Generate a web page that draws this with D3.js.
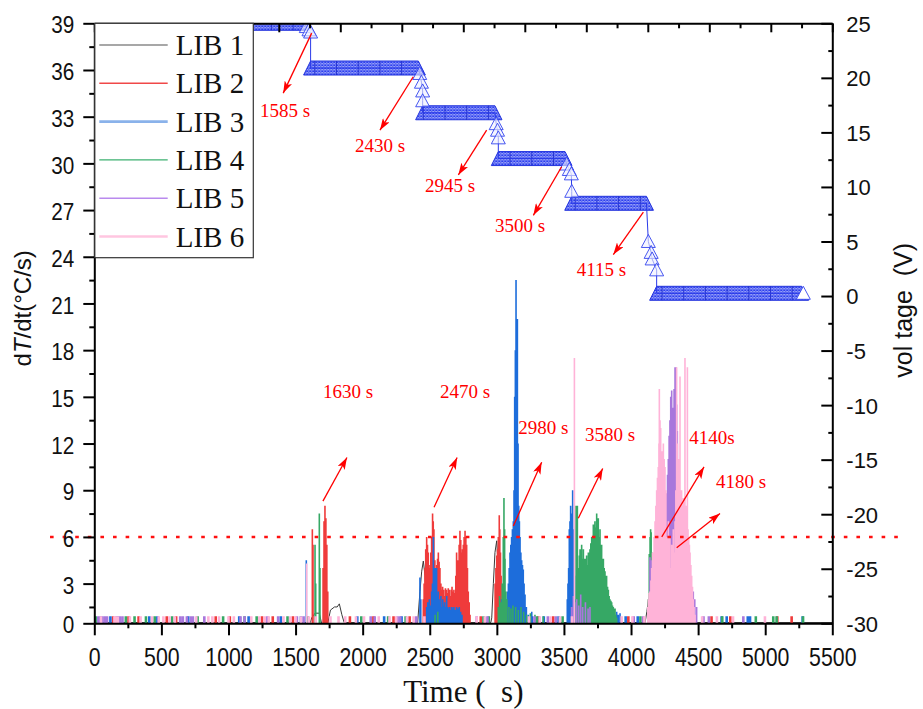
<!DOCTYPE html>
<html>
<head>
<meta charset="utf-8">
<script src="https://cdn.jsdelivr.net/npm/d3@7"></script>
<style>
  body { margin: 0; background: #fff; }
  svg { display: block; }
</style>
</head>
<body>
<svg id="chart" width="923" height="709"></svg>
<script>
// ---- data ----
const seriesNames = ['LIB 1', 'LIB 2', 'LIB 3', 'LIB 4', 'LIB 5', 'LIB 6'];
const seriesColors = ['#3a3a3a', '#ef3b3b', '#1d6ddb', '#36a865', '#a877dc', '#ffb3d8'];
const legendColors = ['#8a8a8a', '#f04848', '#8ab2ea', '#3cb070', '#b98aee', '#ffc6e0'];

// LIB 1 is a smooth line [time s, dT/dt]
const lib1Line = [[0, 0.5], [1610, 0.5], [1620, 0.8], [1645, 1.1], [1677, 1.1], [1694, 0.4],
  [1740, 0.4], [1760, 1.3], [1790, 1.5], [1810, 1.5], [1826, 1.7], [1845, 1.0], [1862, 0.5],
  [2410, 0.5], [2427, 2.5], [2440, 3.8], [2452, 4.45], [2465, 3.5], [2477, 1.0], [2490, 0.5],
  [2955, 0.5], [2962, 0.8], [2974, 3.0], [2986, 5.0], [2999, 5.75], [3011, 4.0], [3024, 1.0], [3035, 0.5],
  [4105, 0.5], [4118, 1.2], [4130, 2.0], [4140, 0.8], [4150, 0.5], [5500, 0.5]];

// spikes [time s, dT/dt]
const lib2Spikes = [[1625, 6.5], [1630, 5.5], [1705, 4.0], [1712, 7.0], [1719, 8.0], [1726, 7.2], [1733, 5.5], [1740, 2.5],
  [2452, 2.0], [2458, 3.0], [2464, 4.0], [2470, 5.2], [2477, 6.0], [2483, 5.5], [2489, 5.0], [2495, 4.2], [2502, 4.0],
  [2508, 5.0], [2514, 6.0], [2521, 7.5], [2526, 7.0], [2531, 6.5], [2538, 4.5], [2544, 3.5], [2552, 4.2], [2558, 4.6],
  [2564, 5.0], [2570, 4.4], [2576, 4.0], [2583, 3.0], [2589, 2.6], [2596, 2.8], [2603, 2.6], [2610, 2.2], [2617, 2.7],
  [2624, 2.6], [2631, 2.4], [2638, 2.7], [2645, 2.6], [2652, 2.2], [2659, 2.6], [2666, 2.8], [2673, 2.5], [2680, 2.6],
  [2688, 2.4], [2694, 3.5], [2700, 5.0], [2706, 4.5], [2713, 4.5], [2719, 5.5], [2725, 6.4], [2731, 5.8], [2738, 5.0],
  [2744, 5.2], [2750, 5.5], [2756, 6.0], [2763, 6.4], [2769, 6.0], [2775, 5.5], [2781, 4.0], [2787, 2.5], [2794, 1.8],
  [2800, 1.0], [2987, 3.0], [2993, 4.0], [2999, 4.8], [3005, 5.2], [3011, 6.0], [3018, 7.4], [3022, 6.5], [3027, 5.0],
  [3032, 3.5], [3037, 2.0]];
const lib3Spikes = [[1580, 4.5],
  [2427, 3.4], [2433, 2.0], [2477, 1.5], [2485, 1.8], [2497, 2.0], [2505, 1.6], [2514, 2.5], [2520, 3.0], [2527, 6.0],
  [2533, 3.5], [2539, 4.0], [2545, 2.5], [2551, 4.0], [2558, 2.2], [2564, 2.5], [2570, 2.0], [2576, 1.8], [2583, 2.2],
  [2590, 1.5], [2597, 2.0], [2604, 1.6], [2611, 1.8], [2618, 1.5], [2626, 2.2], [2633, 1.5], [2640, 1.4], [2648, 1.5],
  [2656, 1.3], [2664, 1.5], [2672, 1.4], [2680, 1.5], [2690, 1.3], [2700, 1.5], [2710, 1.4], [2720, 1.5], [2730, 1.2],
  [2740, 1.0], [3024, 1.5], [3035, 2.0], [3045, 1.6], [3060, 1.8], [3073, 2.0], [3080, 2.5], [3086, 3.0], [3092, 4.0],
  [3098, 5.0], [3104, 5.5], [3110, 6.0], [3116, 6.5], [3123, 7.0], [3128, 9.0], [3133, 15.0], [3138, 18.0], [3143, 22.5],
  [3148, 19.5], [3153, 20.0], [3158, 12.0], [3163, 8.0], [3168, 7.0], [3173, 6.0], [3179, 5.0], [3185, 4.5], [3191, 4.2],
  [3197, 3.9], [3203, 3.0], [3210, 2.3], [3220, 1.5], [3235, 1.0], [3260, 1.2],
  [3525, 2.0], [3530, 3.0], [3535, 4.0], [3540, 6.5], [3545, 7.0], [3550, 8.0], [3554, 7.0], [3557, 6.0], [3561, 7.5],
  [3565, 9.0], [3570, 6.5], [3575, 5.0], [3580, 3.5], [3585, 2.0], [3794, 1.5], [3830, 1.2], [3860, 1.0], [3893, 1.2],
  [3905, 1.0], [3918, 1.1]];
const lib4Spikes = [[1645, 5.5], [1650, 3.0], [1677, 7.5], [1682, 4.0], [2540, 1.0], [2560, 1.2],
  [3011, 1.5], [3020, 2.2], [3030, 1.8], [3040, 3.0], [3048, 6.0], [3053, 8.5], [3058, 6.5], [3061, 4.6], [3068, 2.5],
  [3075, 2.0], [3090, 1.5], [3105, 1.4], [3120, 1.6], [3140, 1.5], [3160, 1.3], [3180, 1.5], [3200, 1.2], [3222, 1.0],
  [3250, 1.1], [3284, 1.0], [3346, 0.9],
  [3590, 8.0], [3595, 7.8], [3600, 8.0], [3605, 3.5], [3610, 4.0], [3615, 4.8], [3620, 5.2], [3626, 4.2], [3632, 5.5],
  [3638, 4.6], [3645, 5.2], [3651, 4.0], [3657, 4.6], [3663, 3.8], [3669, 4.8], [3676, 4.2], [3682, 5.0], [3688, 4.4],
  [3694, 5.2], [3700, 5.6], [3707, 6.0], [3713, 5.6], [3719, 6.8], [3725, 6.2], [3731, 7.0], [3738, 6.6], [3744, 7.5],
  [3750, 7.0], [3756, 7.2], [3762, 6.0], [3769, 6.5], [3775, 5.5], [3781, 5.5], [3788, 4.6], [3794, 4.6], [3800, 4.0],
  [3806, 3.8], [3812, 3.2], [3818, 3.5], [3825, 2.8], [3831, 2.6], [3837, 2.2], [3843, 2.0], [3850, 1.9], [3856, 1.8],
  [3862, 1.6], [3868, 1.5], [3875, 1.4], [3881, 1.4], [3887, 1.0], [3893, 0.8],
  [4129, 2.0], [4136, 4.9], [4142, 6.0], [4146, 6.5], [4150, 6.3], [4155, 5.0], [4161, 4.0], [4166, 2.0]];
const lib5Spikes = [[3557, 1.5], [3570, 2.2], [3580, 1.8], [3595, 2.0], [3610, 1.6], [3625, 2.3], [3640, 1.5],
  [3660, 1.8], [3680, 1.4], [3694, 1.5],
  [4141, 4.7], [4150, 4.5], [4160, 4.0], [4166, 3.5], [4180, 3.8], [4195, 4.2], [4210, 5.0], [4225, 6.0], [4240, 6.5],
  [4253, 7.5], [4260, 8.0], [4266, 8.8], [4272, 10.0], [4278, 11.0], [4284, 12.5], [4290, 13.5], [4296, 15.0],
  [4303, 15.4], [4309, 14.0], [4315, 14.3], [4321, 15.5], [4328, 16.9], [4335, 16.9], [4340, 14.5], [4345, 12.8],
  [4349, 10.0], [4353, 7.2], [4360, 5.5], [4365, 4.0], [4375, 3.0], [4390, 2.8], [4410, 3.0], [4430, 2.5], [4450, 2.2],
  [4464, 2.5], [4475, 2.0], [4489, 1.5]];
const lib6Spikes = [[1583, 4.3], [3578, 17.5],
  [4125, 1.5], [4129, 2.0], [4135, 2.4], [4141, 2.5], [4148, 3.2], [4154, 4.0], [4160, 5.0], [4166, 5.0], [4172, 6.0],
  [4179, 7.0], [4185, 8.0], [4191, 9.0], [4197, 9.8], [4203, 10.5], [4208, 12.0], [4211, 15.5], [4216, 13.5],
  [4221, 13.0], [4226, 11.5], [4231, 11.0], [4236, 11.5], [4241, 12.0], [4247, 11.0], [4253, 10.5], [4260, 9.0],
  [4266, 6.0], [4272, 4.5], [4278, 7.0], [4284, 5.0], [4290, 6.0], [4296, 4.0], [4303, 5.5], [4309, 4.0], [4315, 6.5],
  [4321, 5.0], [4328, 7.0], [4334, 9.0], [4340, 16.9], [4346, 12.0], [4353, 11.0], [4359, 9.5], [4365, 16.3],
  [4371, 9.0], [4377, 9.0], [4384, 8.0], [4390, 8.5], [4396, 7.5], [4402, 17.5], [4406, 8.0], [4410, 8.0], [4415, 7.0],
  [4420, 16.9], [4425, 6.5], [4430, 6.0], [4435, 5.5], [4440, 5.0], [4446, 4.2], [4452, 3.5], [4458, 2.8], [4464, 2.0],
  [4470, 1.5], [4477, 1.0]];

// small noise bars along the baseline (times, s)
const noiseHeight = 0.9;
const lib2Noise = [140, 255, 330, 540, 610, 905, 1010, 1250, 1330, 1480, 1905, 2080, 2230, 2350, 2880, 3310, 3420, 3980, 4600, 4740, 5090, 5197];
const lib3Noise = [120, 175, 410, 470, 700, 1080, 1150, 1390, 1540, 1960, 2160, 2290, 3260, 3350, 3460, 3900, 3960, 4050, 4675, 4713, 4870, 4887, 5279];
const lib4Noise = [10, 235, 300, 385, 450, 580, 770, 960, 1120, 1210, 1440, 1590, 1990, 2190, 2320, 2900, 2940, 3300, 3490, 4070, 4680, 4930, 5060, 5085, 5282];
const lib5Noise = [30, 45, 60, 80, 95, 165, 190, 210, 640, 660, 690, 720, 735, 820, 1090, 1120, 1290, 1370, 1510, 1560,
  2060, 2090, 2260, 2280, 2400, 2850, 2930, 3280, 3380, 3440, 4020, 4090, 4540, 4580, 4837];
const lib6Noise = [50, 150, 160, 175, 265, 345, 430, 480, 515, 560, 600, 760, 850, 880, 930, 1000, 1040, 1170, 1230,
  1270, 1300, 1410, 1460, 1500, 1540, 1600, 1650, 1760, 1820, 1870, 1950, 2010, 2120, 2200, 2250, 2330, 2380, 2460,
  2850, 2910, 3240, 3320, 3400, 3470, 3560, 3930, 4010, 4100, 4530, 4640, 4760, 4998];

// voltage plateaus (right axis)
const voltStartTimes = [0, 1612, 2447, 3011, 3558, 4191];
const voltEndTimes = [1560, 2415, 2986, 3508, 4115, 5272];
const voltLevels = [25, 20.9, 16.8, 12.6, 8.5, 0.25];
// single markers while the voltage drops
const voltDropTimes = [1580, 1600, 1612, 2425, 2438, 2447, 2447, 2995, 3005, 3011, 3520, 3540, 3555, 3558, 4129, 4150, 4157, 4191];
const voltDropValues = [24.7, 24.4, 24.2, 20.4, 19.6, 18.8, 17.9, 15.8, 15.2, 14.5, 12.1, 11.6, 11.2, 9.6, 5.0, 4.0, 3.4, 2.4];
const voltLastMarker = [5284, 0.25];

// annotations: label, text anchor point, arrow tail, arrow head
const voltNotes = [
  { text: '1585 s', t: 1235, v: 16.4, from: [1620, 24.1], to: [1408, 18.6] },
  { text: '2430 s', t: 1943, v: 13.2, from: [2377, 20.1], to: [2129, 15.2] },
  { text: '2945 s', t: 2465, v: 9.5, from: [2924, 15.2], to: [2713, 11.1] },
  { text: '3500 s', t: 2986, v: 5.9, from: [3483, 11.85], to: [3272, 7.4] },
  { text: '4115 s', t: 3595, v: 1.8, from: [4092, 7.7], to: [3868, 3.8] }
];
const tempNotes = [
  { text: '1630 s', t: 1704, v: 14.9, from: [1704, 8.3], to: [1883, 11.1] },
  { text: '2470 s', t: 2576, v: 14.9, from: [2532, 7.9], to: [2704, 11.1] },
  { text: '2980 s', t: 3160, v: 12.6, from: [3123, 6.7], to: [3334, 10.8] },
  { text: '3580 s', t: 3657, v: 12.15, from: [3607, 7.2], to: [3789, 10.4] },
  { text: '4140s', t: 4434, v: 11.95, from: [4229, 6.0], to: [4544, 10.5] },
  { text: '4180 s', t: 4633, v: 9.15, from: [4340, 5.3], to: [4663, 7.5] }
];
const thresholdValue = 6;
const thresholdSpan = [-330, 6040];

// ---- layout ----
const width = 923;
const height = 709;
const margin = { top: 23.3, right: 90.7, bottom: 85.7, left: 94.3 };
const innerWidth = width - margin.left - margin.right;
const innerHeight = height - margin.top - margin.bottom;

const sans = '"Liberation Sans", Arial, sans-serif';
const serif = '"Liberation Serif", "Times New Roman", serif';

// squeeze tick labels horizontally so they look like a narrow face
const condense = (sel, k) => sel.each(function () {
  const t = d3.select(this);
  const x0 = +t.attr('x') || 0;
  t.attr('x', x0 / k).attr('transform', `scale(${k},1)`);
});

const svg = d3.select('#chart');
const defs = svg.append('defs');

// hatch used for the dense voltage markers
const hatch = defs.append('pattern')
  .attr('id', 'hatch').attr('width', 3).attr('height', 3)
  .attr('patternUnits', 'userSpaceOnUse');
hatch.append('rect').attr('width', 3).attr('height', 3).attr('fill', '#ffffff');
hatch.append('path').attr('d', 'M0,0L3,3M3,0L0,3')
  .attr('stroke', '#1e32ee').attr('stroke-width', 1.05);

const vlines = defs.append('pattern')
  .attr('id', 'vlines').attr('width', 21.7).attr('height', 10)
  .attr('patternUnits', 'userSpaceOnUse').attr('x', 3);
vlines.append('path').attr('d', 'M0.5,0V10')
  .attr('stroke', '#1a28c8').attr('stroke-width', 0.8);

defs.append('marker')
  .attr('id', 'arrow').attr('viewBox', '0 0 12 8')
  .attr('refX', 12).attr('refY', 4)
  .attr('markerWidth', 12).attr('markerHeight', 8)
  .attr('markerUnits', 'userSpaceOnUse').attr('orient', 'auto')
  .append('path').attr('d', 'M0,0L12,4L0,8L3,4Z').attr('fill', '#ff0000');

defs.append('clipPath').attr('id', 'plotClip')
  .append('rect').attr('width', innerWidth).attr('height', innerHeight);

const g = svg.append('g').attr('transform', `translate(${margin.left},${margin.top})`);

// scales
const x = d3.scaleLinear().domain([0, 5500]).range([0, innerWidth]);
const xTop = d3.scaleLinear().domain([0, 6000]).range([0, innerWidth]);
const yL = d3.scaleLinear().domain([0.45, 39]).range([innerHeight, 0]).clamp(true);
const yR = d3.scaleLinear().domain([-30, 25]).range([innerHeight, 0]);

const plot = g.append('g').attr('clip-path', 'url(#plotClip)');

// LIB 1 line first
plot.append('path')
  .attr('d', d3.line().x((d) => x(d[0])).y((d) => yL(d[1]))(lib1Line))
  .attr('fill', 'none').attr('stroke', seriesColors[0]).attr('stroke-width', 1);

// spike series, drawn as vertical bars
const spikePath = (pts) => pts.map(([t, v]) => `M${x(t)},${yL(0)}V${yL(v)}`).join('');
const spikeSets = [
  [lib2Noise, lib2Spikes], [lib3Noise, lib3Spikes], [lib4Noise, lib4Spikes],
  [lib5Noise, lib5Spikes], [lib6Noise, lib6Spikes]
];
spikeSets.forEach(([noise, spikes], i) => {
  const color = seriesColors[i + 1];
  plot.append('path')
    .attr('d', spikePath(noise.map((t) => [t, noiseHeight])))
    .attr('stroke', color).attr('stroke-width', 2.6).attr('fill', 'none');
  plot.append('path')
    .attr('d', spikePath(spikes))
    .attr('stroke', color).attr('stroke-width', 1.6).attr('fill', 'none');
});

// voltage: plateaus look like a band of packed triangle markers
const half = 7;
const bandPts = voltLevels.map((v, i) => {
  const x1 = x(voltStartTimes[i]);
  const x2 = x(voltEndTimes[i]);
  const yc = yR(v);
  return [[x1, yc - half], [x2, yc - half], [x2 + half, yc + half], [x1 - half, yc + half]];
});
const bands = plot.append('g');
bands.selectAll('polygon.band')
  .data(bandPts)
  .enter()
  .append('polygon')
  .attr('class', 'band')
  .attr('points', (d) => d.map((p) => p.join(',')).join(' '))
  .attr('fill', 'url(#hatch)')
  .attr('stroke', '#2233dd').attr('stroke-width', 1);
bands.selectAll('polygon.vl')
  .data(bandPts)
  .enter()
  .append('polygon')
  .attr('class', 'vl')
  .attr('points', (d) => d.map((p) => p.join(',')).join(' '))
  .attr('fill', 'url(#vlines)')
  .attr('stroke', 'none');

// connecting line
const voltLinePts = [];
voltLevels.forEach((v, i) => {
  voltLinePts.push([voltStartTimes[i], v], [voltEndTimes[i], v]);
});
voltDropTimes.forEach((t, i) => voltLinePts.push([t, voltDropValues[i]]));
voltLinePts.sort((a, b) => a[0] - b[0] || b[1] - a[1]);
plot.append('path')
  .attr('d', d3.line().x((d) => x(d[0])).y((d) => yR(d[1]))(voltLinePts))
  .attr('fill', 'none').attr('stroke', '#2a3ae8').attr('stroke-width', 1);

const tri = (cx, cy) => `M${cx},${cy - half}L${cx + half},${cy + 6}L${cx - half},${cy + 6}Z`;
plot.append('g').selectAll('path')
  .data(voltDropTimes.map((t, i) => [t, voltDropValues[i]]))
  .enter()
  .append('path')
  .attr('d', (d) => tri(x(d[0]), yR(d[1])))
  .attr('fill', '#eef0ff').attr('fill-opacity', 0.6)
  .attr('stroke', '#3344ee').attr('stroke-width', 0.9);
plot.append('path')
  .attr('d', tri(x(voltLastMarker[0]), yR(voltLastMarker[1])))
  .attr('fill', '#ffffff').attr('stroke', '#3344ee').attr('stroke-width', 0.9);

// threshold line at 6 °C/s
g.append('line')
  .attr('x1', x(thresholdSpan[0])).attr('x2', x(thresholdSpan[1]))
  .attr('y1', yL(thresholdValue)).attr('y2', yL(thresholdValue))
  .attr('stroke', '#ff1010').attr('stroke-width', 2.5)
  .attr('stroke-dasharray', '3.6,9');

// ---- axes ----
const styleAxis = (sel) => {
  sel.select('.domain').attr('stroke', '#000').attr('stroke-width', 2);
  sel.selectAll('.tick line').attr('stroke', '#000').attr('stroke-width', 2);
};
// minor tick rows carry no labels at all
const minorAxis = (sel) => {
  styleAxis(sel);
  sel.select('.domain').remove();
  sel.selectAll('.tick text').remove();
};

// bottom
const xAxis = g.append('g').attr('transform', `translate(0,${innerHeight})`)
  .call(d3.axisBottom(x).tickValues(d3.range(0, 5501, 500)).tickSize(12).tickSizeOuter(0)
    .tickFormat(d3.format('d')));
styleAxis(xAxis);
xAxis.selectAll('text')
  .attr('y', 24).attr('dy', '0.71em')
  .style('font-family', sans).style('font-size', '26px').attr('fill', '#111')
  .call(condense, 0.82);
g.append('g').attr('transform', `translate(0,${innerHeight})`)
  .call(d3.axisBottom(x).tickValues(d3.range(250, 5500, 500)).tickSize(5))
  .call(minorAxis);

// top (no labels)
const xTopAxis = g.append('g')
  .call(d3.axisBottom(xTop).tickValues(d3.range(0, 6001, 500)).tickSize(9).tickSizeOuter(0));
styleAxis(xTopAxis);
xTopAxis.selectAll('.tick text').remove();
g.append('g')
  .call(d3.axisBottom(xTop).tickValues(d3.range(250, 6000, 500)).tickSize(5))
  .call(minorAxis);

// left
const yAxis = g.append('g')
  .call(d3.axisLeft(yL).tickValues(d3.range(0, 40, 3)).tickSize(11).tickPadding(9).tickSizeOuter(0));
styleAxis(yAxis);
yAxis.selectAll('text')
  .attr('dy', '0.42em')
  .style('font-family', sans).style('font-size', '23px').attr('fill', '#111')
  .call(condense, 0.9);
g.append('g')
  .call(d3.axisLeft(yL).tickValues(d3.range(1.5, 39, 3)).tickSize(5))
  .call(minorAxis);

// right (ticks point inward)
const yRAxis = g.append('g').attr('transform', `translate(${innerWidth},0)`)
  .call(d3.axisRight(yR).tickValues(d3.range(-30, 26, 5)).tickSizeInner(-11).tickSizeOuter(0).tickPadding(14)
    .tickFormat((d) => (d < 0 ? '-' + Math.abs(d) : d)));
styleAxis(yRAxis);
yRAxis.selectAll('text')
  .attr('dy', '0.36em')
  .style('font-family', sans).style('font-size', '22px').attr('fill', '#111');
g.append('g').attr('transform', `translate(${innerWidth},0)`)
  .call(d3.axisRight(yR).tickValues(d3.range(-27.5, 25, 5)).tickSizeInner(-4))
  .call(minorAxis);

// axis titles
svg.append('text')
  .attr('transform', `translate(${margin.left + innerWidth / 2},702)`)
  .attr('text-anchor', 'middle')
  .attr('xml:space', 'preserve')
  .style('font-family', serif).style('font-size', '31px').attr('fill', '#111')
  .text('Time (  s)');

const leftTitle = svg.append('text')
  .attr('transform', `translate(31,${margin.top + 285}) rotate(-90)`)
  .attr('text-anchor', 'middle')
  .style('font-family', sans).style('font-size', '24px').attr('fill', '#111');
leftTitle.append('tspan').text('d');
leftTitle.append('tspan').style('font-style', 'italic').text('T');
leftTitle.append('tspan').text('/dt(°C/s)');

svg.append('text')
  .attr('transform', `translate(912,${margin.top + 287}) rotate(-90)`)
  .attr('text-anchor', 'middle')
  .style('font-family', sans).style('font-size', '25px').attr('fill', '#111')
  .attr('xml:space', 'preserve')
  .text('vol tage  (V)');

// ---- annotations ----
const drawNotes = (notes, yScale) => {
  const grp = g.append('g');
  notes.forEach((n) => {
    grp.append('line')
      .attr('x1', x(n.from[0])).attr('y1', yScale(n.from[1]))
      .attr('x2', x(n.to[0])).attr('y2', yScale(n.to[1]))
      .attr('stroke', '#ff0000').attr('stroke-width', 1.3)
      .attr('marker-end', 'url(#arrow)');
    grp.append('text')
      .attr('x', x(n.t)).attr('y', yScale(n.v))
      .style('font-family', serif).style('font-size', '19px').attr('fill', '#ff0000')
      .text(n.text);
  });
};
drawNotes(voltNotes, yR);
drawNotes(tempNotes, yL);

// ---- legend ----
const legend = g.append('g').attr('id', 'legend');
legend.append('rect')
  .attr('x', 0.5).attr('y', 0).attr('width', 158.5).attr('height', 234.4)
  .attr('fill', '#ffffff').attr('stroke', '#333').attr('stroke-width', 1.2);
const items = legend.selectAll('g.item')
  .data(seriesNames)
  .enter()
  .append('g')
  .attr('class', 'item')
  .attr('transform', (d, i) => `translate(0,${21.7 + i * 38.3})`);
items.append('line')
  .attr('x1', 5).attr('x2', 73.4)
  .attr('stroke', (d, i) => legendColors[i])
  .attr('stroke-width', (d, i) => (i === 2 || i === 5 ? 2.6 : 1.4));
items.append('text')
  .attr('x', 81.4).attr('y', 10)
  .style('font-family', serif).style('font-size', '29px').attr('fill', '#111')
  .text((d) => d);
</script>
</body>
</html>
